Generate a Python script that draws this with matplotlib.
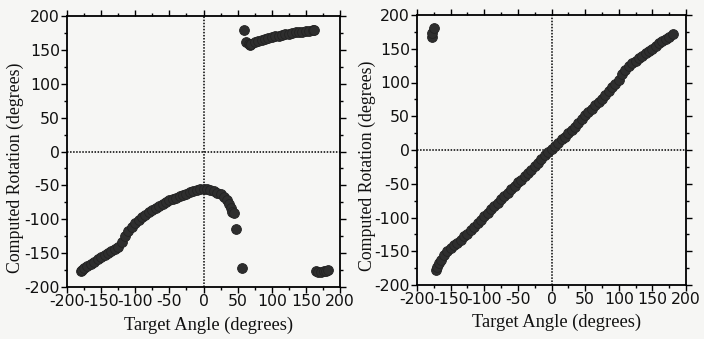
import matplotlib
matplotlib.use("Agg")
import matplotlib.pyplot as plt
from matplotlib.ticker import MultipleLocator

plt.rcParams["axes.unicode_minus"] = False

# ---- Left panel data (target angle, computed rotation) ----
left_x = [-180, -178, -175, -170, -165, -160, -155, -150, -145, -140, -135, -130,
          -125, -120, -115, -110, -105, -100, -95, -90, -85, -80, -75, -70, -65,
          -60, -55, -50, -45, -40, -35, -30, -25, -20, -15, -10, -5, 0, 5, 10,
          15, 20, 25, 30, 35, 38, 40, 42, 44, 47, 57,
          59, 63, 66, 68, 70, 75, 80, 85, 90, 95, 100, 105, 110, 115, 120, 125,
          130, 135, 140, 145, 150, 155, 160, 162,
          165, 168, 172, 176, 180, 182]
left_y = [-176, -175, -172, -169, -166, -163, -159, -156, -153, -150, -147, -144,
          -141, -133, -124, -117, -112, -106, -101, -97, -93, -90, -87, -84, -81,
          -78, -75, -72, -70, -68, -66, -64, -62, -60, -59, -57, -56, -55, -56, -57,
          -59, -61, -63, -67, -72, -78, -84, -89, -91, -114, -172,
          179, 162, 159, 157, 158, 161, 163, 164, 166, 168, 169, 170, 171, 172, 173, 174,
          175, 176, 176, 177, 178, 178, 179, 180,
          -177, -178, -178, -177, -176, -175]

# ---- Right panel data ----
right_x = [-178, -177, -175,
           -172, -170, -167, -165, -160, -155, -150, -145, -140, -135, -130, -125,
           -120, -115, -110, -105, -100, -95, -90, -85, -80, -75, -70, -65, -60,
           -55, -50, -45, -40, -35, -30, -25, -20, -15, -10, -5, 0, 5, 10, 15, 20,
           25, 30, 35, 40, 45, 50, 55, 60, 65, 70, 75, 80, 85, 90, 95, 100, 105,
           110, 115, 120, 125, 130, 135, 140, 145, 150, 155, 160, 165, 170, 175, 180]
right_y = [168, 174, 180,
           -178, -174, -167, -163, -156, -149, -145, -141, -138, -133, -128, -124,
           -119, -114, -108, -103, -98, -93, -88, -83, -78, -73, -68, -63, -58,
           -53, -48, -44, -39, -34, -29, -24, -19, -13, -8, -3, 1, 6, 11, 16, 20,
           25, 29, 34, 40, 46, 52, 57, 61, 66, 71, 76, 82, 87, 93, 98, 103, 112,
           119, 124, 129, 132, 136, 139, 143, 147, 150, 154, 158, 161, 164, 168, 172]

x_label = "Target Angle (degrees)"
y_label = "Computed Rotation (degrees)"
ticks = [-200, -150, -100, -50, 0, 50, 100, 150, 200]

bg = "#f6f6f4"
fig = plt.figure(figsize=(7.04, 3.39), dpi=100, facecolor=bg)

positions = [[67 / 704, 52 / 339, 273 / 704, 271 / 339],
             [417 / 704, 54 / 339, 269 / 704, 270 / 339]]
ylabel_x = [-0.19, -0.186]
xlabel_y = [-0.14, -0.137]
data = [(left_x, left_y), (right_x, right_y)]

for pos, (xs, ys), ylx, xly in zip(positions, data, ylabel_x, xlabel_y):
    ax = fig.add_axes(pos)
    ax.set_facecolor(bg)
    ax.set_xlim(-200, 200)
    ax.set_ylim(-200, 200)
    ax.axhline(0, color="black", linestyle=(0, (1, 1)), linewidth=1.1, zorder=1)
    ax.axvline(0, color="black", linestyle=(0, (1, 1)), linewidth=1.1, zorder=1)
    ax.scatter(xs, ys, s=50, color="#2e2e2e", edgecolors="#222222",
               linewidths=0.6, zorder=3, clip_on=False)
    ax.set_xticks(ticks)
    ax.set_yticks(ticks)
    ax.xaxis.set_minor_locator(MultipleLocator(25))
    ax.yaxis.set_minor_locator(MultipleLocator(25))
    ax.tick_params(which="both", direction="out", top=True, right=True,
                   labeltop=False, labelright=False, color="black", width=1.0)
    ax.tick_params(which="major", length=4, pad=1, labelsize=11.3)
    ax.tick_params(which="minor", length=2.5)
    for lab in ax.get_xticklabels() + ax.get_yticklabels():
        lab.set_fontfamily("DejaVu Sans")
        lab.set_color("#111111")
    for sp in ax.spines.values():
        sp.set_linewidth(1.3)
        sp.set_color("black")
    ax.set_xlabel(x_label, fontfamily="Liberation Serif", fontsize=13.3,
                  color="#111111", va="center")
    ax.set_ylabel(y_label, fontfamily="Liberation Serif", fontsize=12.8,
                  color="#111111", va="center")
    ax.xaxis.set_label_coords(0.52, xly)
    ax.yaxis.set_label_coords(ylx, 0.44)

fig.savefig("out.png", dpi=100, facecolor=bg)
